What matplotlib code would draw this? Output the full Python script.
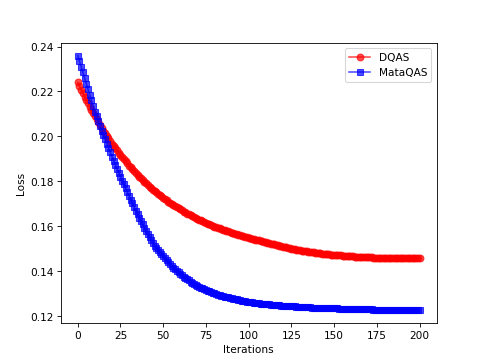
import matplotlib
matplotlib.use('Agg')
import matplotlib.pyplot as plt

# loss per iteration
dqas = [
    .2240, .2224, .2208, .2192, .2177, .2161,
    .2147, .2132, .2118, .2103, .2089,
    .2076, .2064, .2051, .2039, .2026,
    .2014, .2003, .1991, .1980, .1968,
    .1958, .1948, .1938, .1927, .1917,
    .1908, .1898, .1889, .1879, .1870,
    .1862, .1853, .1845, .1836, .1828,
    .1820, .1813, .1805, .1798, .1790,
    .1783, .1776, .1770, .1763, .1756,
    .1750, .1744, .1738, .1732, .1726,
    .1720, .1715, .1709, .1704, .1698,
    .1693, .1688, .1684, .1679, .1674,
    .1670, .1665, .1661, .1656, .1652,
    .1648, .1644, .1640, .1636, .1632,
    .1628, .1625, .1621, .1618, .1614,
    .1611, .1608, .1604, .1601, .1598,
    .1595, .1592, .1590, .1587, .1584,
    .1581, .1578, .1576, .1573, .1570,
    .1568, .1566, .1563, .1561, .1559,
    .1557, .1555, .1552, .1550, .1548,
    .1546, .1544, .1542, .1540, .1538, .1536, .1534, .1532, .1530, .1528,
    .1526, .1524, .1522, .1520, .1518, .1516, .1514, .1512, .1510, .1508,
    .1506, .1505, .1503, .1502, .1500, .1498, .1497, .1495, .1494, .1492,
    .1491, .1490, .1489, .1487, .1486, .1485, .1484, .1483, .1481, .1480,
    .1479, .1478, .1477, .1477, .1476, .1475, .1474, .1473, .1472, .1471,
    .1470, .1470, .1469, .1469, .1468, .1468, .1467, .1466, .1466, .1465,
    .1465, .1464, .1464, .1463, .1463, .1463, .1462, .1462, .1461, .1461,
    .1461, .1461, .1460, .1460, .1460, .1460, .1460, .1459, .1459, .1459,
    .1459, .1459, .1459, .1459, .1458, .1458, .1458, .1458, .1458, .1458,
    .1458, .1458, .1458, .1457, .1457, .1457, .1457, .1457, .1457, .1457,
]

mataqas = [
    .2360, .2335, .2310, .2285, .2260, .2235,
    .2210, .2185, .2160, .2135, .2110,
    .2089, .2068, .2047, .2026, .2005,
    .1986, .1967, .1948, .1929, .1910,
    .1892, .1874, .1856, .1838, .1820,
    .1803, .1786, .1769, .1752, .1735,
    .1718, .1702, .1685, .1669, .1652,
    .1637, .1622, .1608, .1593, .1578,
    .1565, .1552, .1539, .1526, .1513,
    .1503, .1494, .1484, .1475, .1465,
    .1456, .1448, .1439, .1431, .1422,
    .1415, .1408, .1401, .1394, .1387,
    .1381, .1375, .1370, .1364, .1358,
    .1353, .1348, .1344, .1339, .1334,
    .1330, .1326, .1323, .1319, .1315,
    .1312, .1309, .1306, .1303, .1300,
    .1298, .1295, .1293, .1290, .1288,
    .1286, .1284, .1282, .1280, .1278,
    .1276, .1274, .1273, .1271, .1269,
    .1268, .1266, .1265, .1263, .1262,
    .1261, .1260, .1259, .1258, .1257, .1256, .1255, .1254, .1253, .1252,
    .1251, .1251, .1250, .1249, .1249, .1248, .1247, .1247, .1246, .1245,
    .1245, .1244, .1244, .1243, .1243, .1242, .1242, .1241, .1241, .1240,
    .1240, .1239, .1239, .1238, .1238, .1238, .1237, .1237, .1236, .1236,
    .1236, .1235, .1235, .1235, .1234, .1234, .1234, .1233, .1233, .1233,
    .1233, .1233, .1232, .1232, .1232, .1232, .1232, .1231, .1231, .1231,
    .1231, .1231, .1230, .1230, .1230, .1230, .1230, .1229, .1229, .1229,
    .1229, .1229, .1228, .1228, .1228, .1228, .1228, .1227, .1227, .1227,
    .1227, .1227, .1227, .1227, .1226, .1226, .1226, .1226, .1226, .1226,
    .1226, .1226, .1226, .1225, .1225, .1225, .1225, .1225, .1225, .1225,
]

iterations = list(range(len(dqas)))

fig = plt.figure(figsize=(6.4, 4.8), dpi=75.8)
plt.plot(iterations, dqas, 'r-o', alpha=0.7, markersize=6.5, label='DQAS')
plt.plot(iterations, mataqas, 'b-s', alpha=0.7, markersize=6.5, label='MataQAS')
plt.xlabel('Iterations')
plt.ylabel('Loss')
plt.legend()
plt.savefig('out.png', dpi=75.8)
